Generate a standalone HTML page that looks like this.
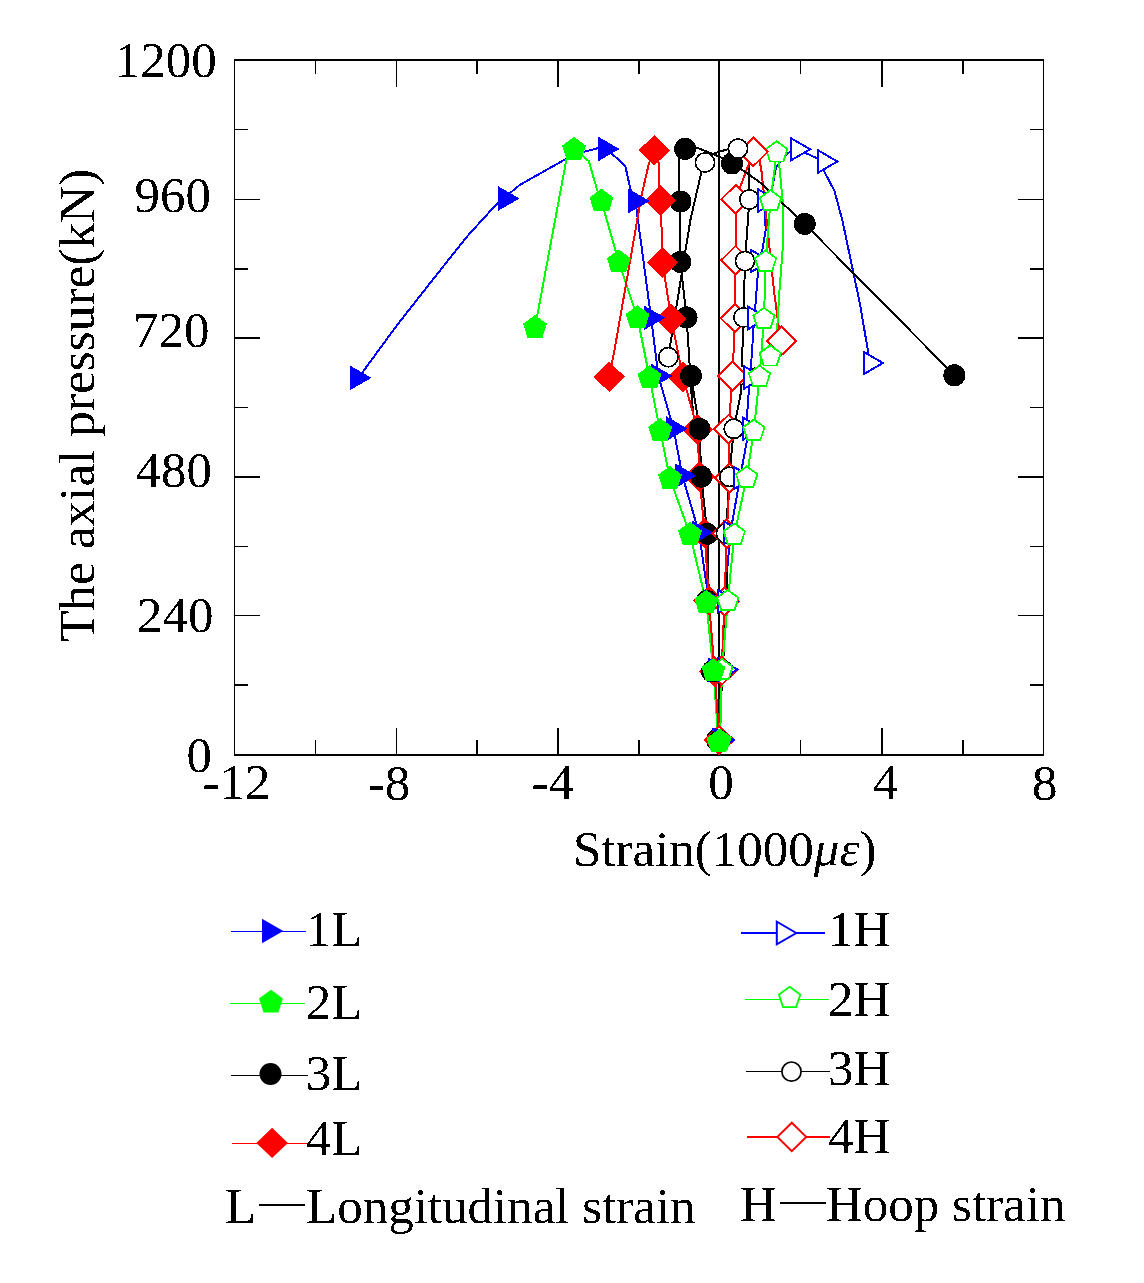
<!DOCTYPE html>
<html><head><meta charset="utf-8"><title>Axial pressure vs strain</title>
<style>html,body{margin:0;padding:0;background:#fff;}svg{display:block;}</style></head>
<body><svg width="1144" height="1283" viewBox="0 0 1144 1283" font-family="Liberation Serif, serif" font-size="51">
<rect x="0" y="0" width="1144" height="1283" fill="#fff"/>
<rect x="718" y="59" width="2" height="697" fill="#000"/>
<rect x="234" y="59" width="810" height="2" fill="#000"/>
<rect x="234" y="754" width="810" height="2" fill="#000"/>
<rect x="234" y="59" width="1" height="697" fill="#000"/>
<rect x="1043" y="59" width="1" height="697" fill="#000"/>
<rect x="235" y="199" width="25" height="1" fill="#000"/>
<rect x="1018" y="199" width="25" height="1" fill="#000"/>
<rect x="235" y="337" width="25" height="2" fill="#000"/>
<rect x="1018" y="337" width="25" height="2" fill="#000"/>
<rect x="235" y="476" width="25" height="2" fill="#000"/>
<rect x="1018" y="476" width="25" height="2" fill="#000"/>
<rect x="235" y="615" width="25" height="1" fill="#000"/>
<rect x="1018" y="615" width="25" height="1" fill="#000"/>
<rect x="235" y="129" width="13" height="1" fill="#000"/>
<rect x="1030" y="129" width="13" height="1" fill="#000"/>
<rect x="235" y="268" width="13" height="2" fill="#000"/>
<rect x="1030" y="268" width="13" height="2" fill="#000"/>
<rect x="235" y="407" width="13" height="1" fill="#000"/>
<rect x="1030" y="407" width="13" height="1" fill="#000"/>
<rect x="235" y="546" width="13" height="1" fill="#000"/>
<rect x="1030" y="546" width="13" height="1" fill="#000"/>
<rect x="235" y="684" width="13" height="2" fill="#000"/>
<rect x="1030" y="684" width="13" height="2" fill="#000"/>
<rect x="396" y="61" width="1" height="26" fill="#000"/>
<rect x="396" y="728" width="1" height="26" fill="#000"/>
<rect x="557" y="61" width="2" height="26" fill="#000"/>
<rect x="557" y="728" width="2" height="26" fill="#000"/>
<rect x="881" y="61" width="2" height="26" fill="#000"/>
<rect x="881" y="728" width="2" height="26" fill="#000"/>
<rect x="315" y="61" width="1" height="13" fill="#000"/>
<rect x="315" y="740" width="1" height="14" fill="#000"/>
<rect x="476" y="61" width="2" height="13" fill="#000"/>
<rect x="476" y="740" width="2" height="14" fill="#000"/>
<rect x="638" y="61" width="2" height="13" fill="#000"/>
<rect x="638" y="740" width="2" height="14" fill="#000"/>
<rect x="800" y="61" width="1" height="13" fill="#000"/>
<rect x="800" y="740" width="1" height="14" fill="#000"/>
<rect x="962" y="61" width="2" height="13" fill="#000"/>
<rect x="962" y="740" width="2" height="14" fill="#000"/>
<g shape-rendering="crispEdges">
<path d="M719,740 L721.6,670.7 L724.5,601.5 L730.4,532.6 L740,478 L749.2,428.6 L746.9,417.9 L749,388.5 L750.4,377.5 L751,366.2 L753.8,324.2 L754.5,318 L755.2,308.3 L758,272 L757,261 L762.2,251 L765.7,230 L764.5,200.5 L771.5,190.8 L776.2,166.7 L787.7,153 L797.1,149.3 L824.4,161.5 L823.9,170.9 L834.4,190.8 L842.3,220 L860,304 L868,351 L870,363" fill="none" stroke="#0000ff" stroke-width="2" stroke-linejoin="round"/>
<path d="M719,740 L722.6,670 L727,601 L726,533.5 L729.3,476.8 L733.8,428.8 L741,392 L741,385 L758,377 L741.9,365.7 L743.5,317.4 L745,261.1 L749.4,199.5 L749.1,188.7 L749.1,160.4 L738,148.6 L727.1,149.4 L713.4,153.6 L705,162.5 L701.4,172 L690.4,220 L668.3,357.2" fill="none" stroke="#000000" stroke-width="2" stroke-linejoin="round"/>
<path d="M719,740 L721.6,670.7 L724.5,601.5 L726.8,533.7 L729.6,478 L728.6,429.1 L732.5,376 L735,318.1 L735.5,260.3 L735.7,199.2 L753.3,151.9 L759.6,160 L761.6,172 L773.9,290 L778.6,326 L781.4,341" fill="none" stroke="#ff0000" stroke-width="2" stroke-linejoin="round"/>
<path d="M720,741 L722,670.2 L727.8,601.2 L734.3,534.7 L746.7,477.6 L753.9,430.7 L759.5,376.8 L764,319 L765.6,261.7 L770.5,201.3 L776.7,152.5 L779,162.5 L782.6,200 L782.6,250 L779.5,290 L776.9,332.9 L770.2,356.5" fill="none" stroke="#00ff00" stroke-width="2" stroke-linejoin="round"/>
<path d="M719.4,740 L714.6,671.4 L708.9,600.5 L698.9,532.6 L682.4,475.8 L673.5,428.7 L658.4,376 L651.1,317.8 L643.6,262 L635.4,201 L631.2,192.4 L625.2,165.7 L611.9,153.8 L605.3,149 L598.5,148 L582,152.3 L565.8,159 L519.7,185 L510.8,192.4 L505.3,198.5 L498,202.5 L466.9,236.7 L431,281.9 L396.7,325.6 L362.5,372.3 L357.2,377.9" fill="none" stroke="#0000ff" stroke-width="2" stroke-linejoin="round"/>
<path d="M718.6,742 L713.4,670.9 L706.3,602.6 L690,534.5 L670,478.6 L660.1,430.7 L649.6,378 L637.6,318 L618.8,262.1 L601.5,201.3 L597,189.4 L588.8,161.2 L582.1,155.3 L574,149.5 L566.5,159 L535,327.7" fill="none" stroke="#00ff00" stroke-width="2" stroke-linejoin="round"/>
<path d="M719.4,740 L714.6,671.4 L708.9,600.5 L707.3,533.8 L701.3,476.7 L699.5,428.8 L691,375.8 L691.7,386.3 L692.8,413.5 L686.6,317.4 L680.3,261.9 L680.4,201.6 L678.8,190 L678.8,157.3 L685.1,148.9 L695.6,147.3 L713.4,154.1 L720.8,157.3 L732,163.5 L740.7,168.8 L760,182.4 L804.7,223.9 L954.4,375.3" fill="none" stroke="#000000" stroke-width="2" stroke-linejoin="round"/>
<path d="M719.4,740 L714.6,671.4 L708.9,600.5 L704.6,533.2 L699.5,476.7 L697.5,429.3 L683,377 L671.2,319 L662.6,262.5 L660.7,200.5 L659.4,186.6 L658.9,163.6 L654.4,150.2 L648.9,163.6 L641.6,195 L635.5,230 L614.5,350 L609.3,376.9" fill="none" stroke="#ff0000" stroke-width="2" stroke-linejoin="round"/>
<polygon points="719.4,724.8 735.2,740 719.4,755.2 703.6,740" fill="#ff0000"/>
<polygon points="714.6,656.2 730.4,671.4 714.6,686.6 698.8,671.4" fill="#ff0000"/>
<polygon points="708.9,585.3 724.7,600.5 708.9,615.7 693.1,600.5" fill="#ff0000"/>
<polygon points="704.6,518 720.4,533.2 704.6,548.4 688.8,533.2" fill="#ff0000"/>
<polygon points="699.5,461.5 715.3,476.7 699.5,491.9 683.7,476.7" fill="#ff0000"/>
<polygon points="697.5,414.1 713.3,429.3 697.5,444.5 681.7,429.3" fill="#ff0000"/>
<polygon points="683,361.8 698.8,377 683,392.2 667.2,377" fill="#ff0000"/>
<circle cx="717" cy="740" r="11" fill="#000"/>
<circle cx="712" cy="671.5" r="11" fill="#000"/>
<circle cx="707" cy="601" r="11" fill="#000"/>
<circle cx="707.3" cy="533.8" r="11" fill="#000"/>
<circle cx="701.3" cy="476.7" r="11" fill="#000"/>
<circle cx="699.5" cy="428.8" r="11" fill="#000"/>
<circle cx="691" cy="375.8" r="11" fill="#000"/>
<circle cx="686.6" cy="317.4" r="11" fill="#000"/>
<circle cx="680.3" cy="261.9" r="11" fill="#000"/>
<circle cx="680.4" cy="201.6" r="11" fill="#000"/>
<circle cx="685.1" cy="148.9" r="11" fill="#000"/>
<circle cx="732" cy="163.5" r="11" fill="#000"/>
<circle cx="804.7" cy="223.9" r="11" fill="#000"/>
<circle cx="954.4" cy="375.3" r="11" fill="#000"/>
<polygon points="671.2,303.8 687,319 671.2,334.2 655.4,319" fill="#ff0000"/>
<polygon points="662.6,247.3 678.4,262.5 662.6,277.7 646.8,262.5" fill="#ff0000"/>
<polygon points="660.7,185.3 676.5,200.5 660.7,215.7 644.9,200.5" fill="#ff0000"/>
<polygon points="654.4,135 670.2,150.2 654.4,165.4 638.6,150.2" fill="#ff0000"/>
<polygon points="609.3,361.7 625.1,376.9 609.3,392.1 593.5,376.9" fill="#ff0000"/>
<polygon points="733.5,740 712.2,727.7 712.2,752.3" fill="#0000ff"/>
<polygon points="729.5,670 708.2,657.7 708.2,682.3" fill="#0000ff"/>
<polygon points="724.1,601 702.8,588.7 702.8,613.3" fill="#0000ff"/>
<polygon points="713.1,532.6 691.8,520.3 691.8,544.9" fill="#0000ff"/>
<polygon points="696.6,475.8 675.3,463.5 675.3,488.1" fill="#0000ff"/>
<polygon points="687.7,428.7 666.4,416.4 666.4,441" fill="#0000ff"/>
<polygon points="672.6,376 651.3,363.7 651.3,388.3" fill="#0000ff"/>
<polygon points="665.3,317.8 644,305.5 644,330.1" fill="#0000ff"/>
<polygon points="649.6,201 628.3,188.7 628.3,213.3" fill="#0000ff"/>
<polygon points="619.5,149 598.2,136.7 598.2,161.3" fill="#0000ff"/>
<polygon points="519.5,198.5 498.2,186.2 498.2,210.8" fill="#0000ff"/>
<polygon points="371.4,377.9 350.1,365.6 350.1,390.2" fill="#0000ff"/>
<polygon points="770,261 750.5,249.74 750.5,272.26" fill="#fff" stroke="#0000ff" stroke-width="2"/>
<circle cx="758" cy="377" r="9.6" fill="#fff" stroke="#000" stroke-width="1.7"/>
<polygon points="719,725.8 733.4,740 719,754.2 704.6,740" fill="#fff" stroke="#ff0000" stroke-width="2"/>
<polygon points="721.6,656.5 736,670.7 721.6,684.9 707.2,670.7" fill="#fff" stroke="#ff0000" stroke-width="2"/>
<polygon points="724.5,587.3 738.9,601.5 724.5,615.7 710.1,601.5" fill="#fff" stroke="#ff0000" stroke-width="2"/>
<polygon points="726.8,519.5 741.2,533.7 726.8,547.9 712.4,533.7" fill="#fff" stroke="#ff0000" stroke-width="2"/>
<polygon points="729.6,463.8 744,478 729.6,492.2 715.2,478" fill="#fff" stroke="#ff0000" stroke-width="2"/>
<polygon points="728.6,414.9 743,429.1 728.6,443.3 714.2,429.1" fill="#fff" stroke="#ff0000" stroke-width="2"/>
<polygon points="732.5,361.8 746.9,376 732.5,390.2 718.1,376" fill="#fff" stroke="#ff0000" stroke-width="2"/>
<polygon points="735,303.9 749.4,318.1 735,332.3 720.6,318.1" fill="#fff" stroke="#ff0000" stroke-width="2"/>
<polygon points="735.5,246.1 749.9,260.3 735.5,274.5 721.1,260.3" fill="#fff" stroke="#ff0000" stroke-width="2"/>
<polygon points="735.7,185 750.1,199.2 735.7,213.4 721.3,199.2" fill="#fff" stroke="#ff0000" stroke-width="2"/>
<polygon points="781.4,326.8 795.8,341 781.4,355.2 767,341" fill="#fff" stroke="#ff0000" stroke-width="2"/>
<circle cx="719" cy="740" r="9.6" fill="#fff" stroke="#000" stroke-width="1.7"/>
<circle cx="722.6" cy="670" r="9.6" fill="#fff" stroke="#000" stroke-width="1.7"/>
<circle cx="727" cy="601" r="9.6" fill="#fff" stroke="#000" stroke-width="1.7"/>
<circle cx="726" cy="533.5" r="9.6" fill="#fff" stroke="#000" stroke-width="1.7"/>
<circle cx="729.3" cy="476.8" r="9.6" fill="#fff" stroke="#000" stroke-width="1.7"/>
<circle cx="733.8" cy="428.8" r="9.6" fill="#fff" stroke="#000" stroke-width="1.7"/>
<circle cx="743.5" cy="317.4" r="9.6" fill="#fff" stroke="#000" stroke-width="1.7"/>
<circle cx="745" cy="261.1" r="9.6" fill="#fff" stroke="#000" stroke-width="1.7"/>
<circle cx="749.4" cy="199.5" r="9.6" fill="#fff" stroke="#000" stroke-width="1.7"/>
<circle cx="705" cy="162.5" r="9.6" fill="#fff" stroke="#000" stroke-width="1.7"/>
<circle cx="668.3" cy="357.2" r="9.6" fill="#fff" stroke="#000" stroke-width="1.7"/>
<polygon points="734,740 714.5,728.74 714.5,751.26" fill="#fff" stroke="#0000ff" stroke-width="2"/>
<polygon points="737.5,669.5 718,658.24 718,680.76" fill="#fff" stroke="#0000ff" stroke-width="2"/>
<polygon points="737.4,601.4 717.9,590.14 717.9,612.66" fill="#fff" stroke="#0000ff" stroke-width="2"/>
<polygon points="743.4,532.6 723.9,521.34 723.9,543.86" fill="#fff" stroke="#0000ff" stroke-width="2"/>
<polygon points="753,478 733.5,466.74 733.5,489.26" fill="#fff" stroke="#0000ff" stroke-width="2"/>
<polygon points="762.2,428.6 742.7,417.34 742.7,439.86" fill="#fff" stroke="#0000ff" stroke-width="2"/>
<polygon points="763.4,377.5 743.9,366.24 743.9,388.76" fill="#fff" stroke="#0000ff" stroke-width="2"/>
<polygon points="767.5,318 748,306.74 748,329.26" fill="#fff" stroke="#0000ff" stroke-width="2"/>
<polygon points="777.5,200.5 758,189.24 758,211.76" fill="#fff" stroke="#0000ff" stroke-width="2"/>
<polygon points="810.1,149.3 790.6,138.04 790.6,160.56" fill="#fff" stroke="#0000ff" stroke-width="2"/>
<polygon points="837.4,161.5 817.9,150.24 817.9,172.76" fill="#fff" stroke="#0000ff" stroke-width="2"/>
<polygon points="883,363 863.5,351.74 863.5,374.26" fill="#fff" stroke="#0000ff" stroke-width="2"/>
<polygon points="720,729.8 730.65,737.54 726.58,750.06 713.42,750.06 709.35,737.54" fill="#fff" stroke="#00ff00" stroke-width="1.8"/>
<polygon points="722,659 732.65,666.74 728.58,679.26 715.42,679.26 711.35,666.74" fill="#fff" stroke="#00ff00" stroke-width="1.8"/>
<polygon points="727.8,590 738.45,597.74 734.38,610.26 721.22,610.26 717.15,597.74" fill="#fff" stroke="#00ff00" stroke-width="1.8"/>
<polygon points="734.3,523.5 744.95,531.24 740.88,543.76 727.72,543.76 723.65,531.24" fill="#fff" stroke="#00ff00" stroke-width="1.8"/>
<polygon points="746.7,466.4 757.35,474.14 753.28,486.66 740.12,486.66 736.05,474.14" fill="#fff" stroke="#00ff00" stroke-width="1.8"/>
<polygon points="753.9,419.5 764.55,427.24 760.48,439.76 747.32,439.76 743.25,427.24" fill="#fff" stroke="#00ff00" stroke-width="1.8"/>
<polygon points="759.5,365.6 770.15,373.34 766.08,385.86 752.92,385.86 748.85,373.34" fill="#fff" stroke="#00ff00" stroke-width="1.8"/>
<polygon points="764,307.8 774.65,315.54 770.58,328.06 757.42,328.06 753.35,315.54" fill="#fff" stroke="#00ff00" stroke-width="1.8"/>
<polygon points="765.6,250.5 776.25,258.24 772.18,270.76 759.02,270.76 754.95,258.24" fill="#fff" stroke="#00ff00" stroke-width="1.8"/>
<polygon points="770.5,190.1 781.15,197.84 777.08,210.36 763.92,210.36 759.85,197.84" fill="#fff" stroke="#00ff00" stroke-width="1.8"/>
<polygon points="776.7,141.3 787.35,149.04 783.28,161.56 770.12,161.56 766.05,149.04" fill="#fff" stroke="#00ff00" stroke-width="1.8"/>
<polygon points="770.2,345.3 780.85,353.04 776.78,365.56 763.62,365.56 759.55,353.04" fill="#fff" stroke="#00ff00" stroke-width="1.8"/>
<polygon points="753.3,137.7 767.7,151.9 753.3,166.1 738.9,151.9" fill="#fff" stroke="#ff0000" stroke-width="2"/>
<circle cx="738" cy="148.6" r="9.6" fill="#fff" stroke="#000" stroke-width="1.7"/>
<polygon points="718.6,729.4 730.58,738.11 726.01,752.19 711.19,752.19 706.62,738.11" fill="#00ff00"/>
<polygon points="713.4,658.3 725.38,667.01 720.81,681.09 705.99,681.09 701.42,667.01" fill="#00ff00"/>
<polygon points="706.3,590 718.28,598.71 713.71,612.79 698.89,612.79 694.32,598.71" fill="#00ff00"/>
<polygon points="690,521.9 701.98,530.61 697.41,544.69 682.59,544.69 678.02,530.61" fill="#00ff00"/>
<polygon points="670,466 681.98,474.71 677.41,488.79 662.59,488.79 658.02,474.71" fill="#00ff00"/>
<polygon points="660.1,418.1 672.08,426.81 667.51,440.89 652.69,440.89 648.12,426.81" fill="#00ff00"/>
<polygon points="649.6,365.4 661.58,374.11 657.01,388.19 642.19,388.19 637.62,374.11" fill="#00ff00"/>
<polygon points="637.6,305.4 649.58,314.11 645.01,328.19 630.19,328.19 625.62,314.11" fill="#00ff00"/>
<polygon points="618.8,249.5 630.78,258.21 626.21,272.29 611.39,272.29 606.82,258.21" fill="#00ff00"/>
<polygon points="601.5,188.7 613.48,197.41 608.91,211.49 594.09,211.49 589.52,197.41" fill="#00ff00"/>
<polygon points="574,136.9 585.98,145.61 581.41,159.69 566.59,159.69 562.02,145.61" fill="#00ff00"/>
<polygon points="535,315.1 546.98,323.81 542.41,337.89 527.59,337.89 523.02,323.81" fill="#00ff00"/>
</g>
<line x1="231" y1="931.5" x2="306" y2="931.5" stroke="#0000ff" stroke-width="1"/>
<polygon points="283.3,931 262,918.7 262,943.3" fill="#0000ff"/>
<line x1="230" y1="1003.5" x2="305" y2="1003.5" stroke="#00ff00" stroke-width="1"/>
<polygon points="271,989.8 282.98,998.51 278.41,1012.59 263.59,1012.59 259.02,998.51" fill="#00ff00"/>
<line x1="231" y1="1075.5" x2="308" y2="1075.5" stroke="#000000" stroke-width="1"/>
<circle cx="270.5" cy="1074" r="11" fill="#000"/>
<line x1="232" y1="1143.5" x2="307" y2="1143.5" stroke="#ff0000" stroke-width="1"/>
<polygon points="272.1,1127.7 287.9,1142.9 272.1,1158.1 256.3,1142.9" fill="#ff0000"/>
<line x1="741" y1="933" x2="825" y2="933" stroke="#0000ff" stroke-width="2"/>
<polygon points="796.3,933 776.8,921.74 776.8,944.26" fill="#fff" stroke="#0000ff" stroke-width="2"/>
<line x1="745" y1="999.5" x2="829" y2="999.5" stroke="#00ff00" stroke-width="1"/>
<polygon points="789.6,986.8 800.25,994.54 796.18,1007.06 783.02,1007.06 778.95,994.54" fill="#fff" stroke="#00ff00" stroke-width="1.8"/>
<line x1="746" y1="1071.5" x2="830" y2="1071.5" stroke="#000000" stroke-width="1"/>
<circle cx="791.5" cy="1071.6" r="9.6" fill="#fff" stroke="#000" stroke-width="1.7"/>
<line x1="747" y1="1137" x2="830" y2="1137" stroke="#ff0000" stroke-width="2"/>
<polygon points="791.8,1122.7 806.2,1136.9 791.8,1151.1 777.4,1136.9" fill="#fff" stroke="#ff0000" stroke-width="2"/>
<rect x="259" y="1204" width="46" height="2" fill="#000"/>
<rect x="780" y="1202" width="46" height="2" fill="#000"/>
<defs><filter id="crisp" x="0" y="0" width="100%" height="100%" color-interpolation-filters="sRGB"><feComponentTransfer><feFuncA type="discrete" tableValues="0 1"/></feComponentTransfer></filter></defs>
<g fill="#000" filter="url(#crisp)">
<text x="114.7" y="77">1200</text>
<text x="134.6" y="212">960</text>
<text x="132.9" y="347">720</text>
<text x="135.6" y="487">480</text>
<text x="137" y="632">240</text>
<text x="186.6" y="772">0</text>
<text x="202.6" y="798.5">-12</text>
<text x="367.7" y="799.5">-8</text>
<text x="531.6" y="798.5">-4</text>
<text x="708.2" y="798.5">0</text>
<text x="872.7" y="798.5">4</text>
<text x="1031.9" y="799.5">8</text>
<text x="573" y="866">Strain(1000<tspan font-style="italic">με</tspan>)</text>
<text transform="translate(94,642) rotate(-90)" x="0" y="0" font-size="51.35">The axial pressure(kN)</text>
<text x="305.8" y="945.5">1L</text>
<text x="305.8" y="1019.3">2L</text>
<text x="305.8" y="1089.5">3L</text>
<text x="305.8" y="1154.5">4L</text>
<text x="828.1" y="946">1H</text>
<text x="828.1" y="1015.5">2H</text>
<text x="828.1" y="1084.5">3H</text>
<text x="828.1" y="1152.5">4H</text>
<text x="225.1" y="1222.5">L</text>
<text x="306" y="1222.5">Longitudinal strain</text>
<text x="739.9" y="1220.5">H</text>
<text x="826" y="1220.5">Hoop strain</text>
</g>
</svg></body></html>
